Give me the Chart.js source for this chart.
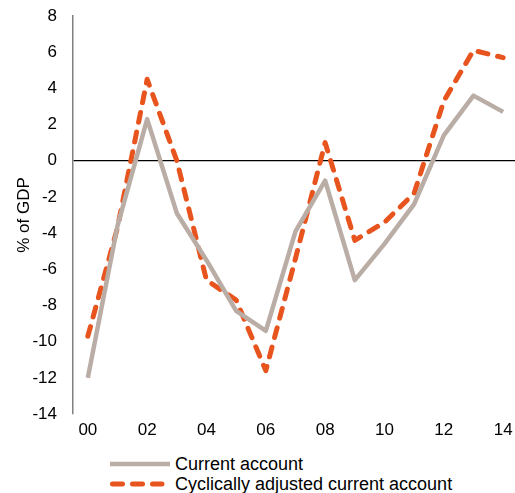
<!DOCTYPE html>
<html>
<head>
<meta charset="utf-8">
<script src="https://cdn.jsdelivr.net/npm/chart.js@4"></script>
<style>
    body { margin: 0; background: #fff; font-family: "Liberation Sans", Arial, sans-serif; }
    #wrap { position: relative; width: 515px; height: 493px; }
    #chartBox { position: absolute; left: 0; top: 0; width: 515px; height: 452px; }
    #legend { position: absolute; left: 110px; top: 454px; font-size: 18px; color: #000; }
    .item { display: flex; align-items: center; height: 20px; }
    .item svg { margin-right: 5px; }
</style>
</head>
<body>
<div id="wrap">
    <div id="chartBox"><canvas id="caChart"></canvas></div>
    <div id="legend"></div>
</div>
<script>
const years = [0, 1, 2, 3, 4, 5, 6, 7, 8, 9, 10, 11, 12, 13, 14];
const currentAccount = [-12.0, -3.6, 2.3, -2.9, -5.5, -8.3, -9.4, -3.9, -1.1, -6.6, -4.6, -2.4, 1.4, 3.6, 2.7];
const cyclicallyAdjusted = [-9.7, -3.7, 4.5, 0.0, -6.6, -7.7, -11.6, -5.4, 1.0, -4.4, -3.4, -1.8, 3.3, 6.1, 5.7];
const seriesLabels = ["Current account", "Cyclically adjusted current account"];
const yTitle = "% of GDP";

const grey = "#b9ada6";
const orange = "#e8541d";
const tickFont = { size: 17, family: '"Liberation Sans", Arial' };

const toPoints = vals => vals.map((v, i) => ({ x: years[i], y: v }));

const ctx = document.getElementById("caChart").getContext("2d");
const caChart = new Chart(ctx, {
    type: 'line',
    data: {
        datasets: [
            {
                label: seriesLabels[0],
                data: toPoints(currentAccount),
                borderColor: grey,
                borderWidth: 4.5,
                borderJoinStyle: 'round',
                pointRadius: 0,
                tension: 0,
                fill: false
            },
            {
                label: seriesLabels[1],
                data: toPoints(cyclicallyAdjusted),
                borderColor: orange,
                borderWidth: 5,
                borderDash: [10, 10],
                borderCapStyle: 'round',
                borderJoinStyle: 'round',
                pointRadius: 0,
                tension: 0,
                fill: false
            }
        ]
    },
    options: {
        responsive: true,
        maintainAspectRatio: false,
        animation: false,
        layout: { padding: { left: 0, right: 0, top: 16, bottom: 0 } },
        scales: {
            x: {
                type: 'linear',
                min: -0.5,
                max: 14.4,
                border: { display: false },
                grid: { display: false, drawTicks: false },
                ticks: {
                    stepSize: 2,
                    padding: 6,
                    maxRotation: 0,
                    color: '#000',
                    font: tickFont,
                    callback: v => String(v).padStart(2, '0')
                },
                afterBuildTicks: axis => { axis.ticks = years.filter(y => y % 2 === 0).map(y => ({ value: y })); },
                afterFit: axis => {
                    axis.height = 38;
                    axis.paddingLeft = 0;
                    axis.paddingRight = 0;
                }
            },
            y: {
                min: -14,
                max: 8,
                border: { display: true, color: '#808080', width: 1.5 },
                grid: {
                    drawTicks: false,
                    color: c => c.tick.value === 0 ? '#000' : 'rgba(0,0,0,0)',
                    lineWidth: 1.2
                },
                ticks: {
                    stepSize: 2,
                    padding: 16,
                    color: '#000',
                    font: tickFont
                },
                title: {
                    display: true,
                    text: yTitle,
                    color: '#000',
                    padding: { top: 14, bottom: 0 },
                    font: tickFont
                },
                afterFit: axis => {
                    axis.width = 73;
                    axis.paddingTop = 0;
                    axis.paddingBottom = 0;
                }
            }
        },
        plugins: {
            legend: { display: false },
            tooltip: { enabled: false }
        }
    }
});

// legend below the chart, left aligned like the original
const legend = document.getElementById("legend");
caChart.data.datasets.forEach(ds => {
    const row = document.createElement("div");
    row.className = "item";
    const dash = ds.borderDash ? 'stroke-dasharray="10 10" stroke-linecap="round"' : '';
    const x1 = ds.borderDash ? 2.5 : 0;
    const x2 = ds.borderDash ? 52 : 60;
    row.innerHTML = `<svg width="60" height="10"><line x1="${x1}" y1="5" x2="${x2}" y2="5" stroke="${ds.borderColor}" stroke-width="${ds.borderWidth}" ${dash}/></svg><span>${ds.label}</span>`;
    legend.appendChild(row);
});
</script>
</body>
</html>
